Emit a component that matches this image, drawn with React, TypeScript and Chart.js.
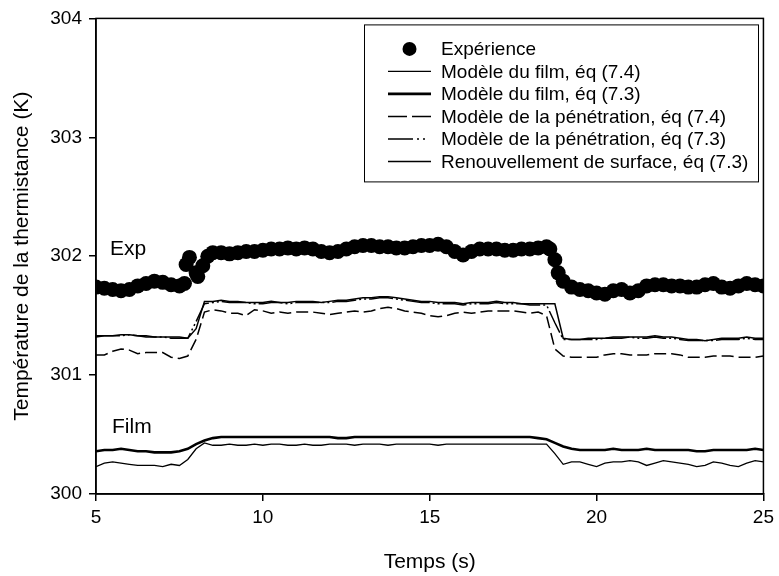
import React, { useEffect, useRef } from "react";
import { Chart, registerables } from "chart.js";

Chart.register(...registerables);

const FONT = "'Liberation Sans', Arial, Helvetica, sans-serif";

// Experimental points
const expTime = [
  5, 5.25, 5.5, 5.75, 6, 6.25, 6.5, 6.75, 7, 7.25, 7.5, 7.65, 7.7, 7.8, 8, 8.05, 8.2, 8.35, 8.5, 8.75,
  9, 9.25, 9.5, 9.75, 10, 10.25, 10.5, 10.75, 11, 11.25, 11.5, 11.75, 12, 12.25, 12.5, 12.75, 13, 13.25, 13.5, 13.75,
  14, 14.25, 14.5, 14.75, 15, 15.25, 15.5, 15.75, 16, 16.25, 16.5, 16.75, 17, 17.25, 17.5, 17.75, 18, 18.25, 18.5, 18.6,
  18.75, 18.85, 19, 19.25, 19.5, 19.75, 20, 20.25, 20.5, 20.75, 21, 21.25, 21.5, 21.75, 22, 22.25, 22.5, 22.75, 23, 23.25,
  23.5, 23.75, 24, 24.25, 24.5, 24.75, 25,
];
const expTemp = [
  301.74, 301.73, 301.72, 301.71, 301.72, 301.75, 301.77, 301.79, 301.78, 301.76, 301.75, 301.77, 301.93, 301.99, 301.86, 301.83, 301.92, 302.0, 302.03, 302.03,
  302.02, 302.03, 302.04, 302.04, 302.05, 302.06, 302.06, 302.07, 302.06, 302.07, 302.06, 302.04, 302.03, 302.04, 302.06, 302.08, 302.09, 302.09, 302.08, 302.08,
  302.07, 302.07, 302.08, 302.09, 302.09, 302.1, 302.08, 302.04, 302.01, 302.04, 302.06, 302.06, 302.06, 302.05, 302.05, 302.06, 302.06, 302.07, 302.08, 302.06,
  301.97, 301.86, 301.79, 301.74, 301.72, 301.71, 301.69, 301.68, 301.71, 301.72, 301.69, 301.71, 301.75, 301.76, 301.76, 301.75, 301.75, 301.74, 301.74, 301.76,
  301.77, 301.74, 301.73, 301.75, 301.77, 301.76, 301.75,
];

// Model time grid
const modelTime = [
  5, 5.25, 5.5, 5.75, 6, 6.25, 6.5, 6.75, 7, 7.25,
  7.5, 7.75, 8, 8.25, 8.5, 8.75, 9, 9.25, 9.5, 9.75,
  10, 10.25, 10.5, 10.75, 11, 11.25, 11.5, 11.75, 12, 12.25,
  12.5, 12.75, 13, 13.25, 13.5, 13.75, 14, 14.25, 14.5, 14.75,
  15, 15.25, 15.5, 15.75, 16, 16.25, 16.5, 16.75, 17, 17.25,
  17.5, 17.75, 18, 18.25, 18.5, 18.75, 19, 19.25, 19.5, 19.75,
  20, 20.25, 20.5, 20.75, 21, 21.25, 21.5, 21.75, 22, 22.25,
  22.5, 22.75, 23, 23.25, 23.5, 23.75, 24, 24.25, 24.5, 24.75,
  25,
];

const filmEq74 = [
  300.23, 300.26, 300.27, 300.26, 300.25, 300.24, 300.24, 300.24, 300.23, 300.25,
  300.24, 300.29, 300.38, 300.43, 300.41, 300.41, 300.42, 300.41, 300.41, 300.42,
  300.41, 300.42, 300.42, 300.41, 300.41, 300.42, 300.41, 300.41, 300.42, 300.42,
  300.42, 300.41, 300.42, 300.42, 300.42, 300.41, 300.42, 300.42, 300.42, 300.42,
  300.42, 300.41, 300.42, 300.42, 300.42, 300.42, 300.42, 300.42, 300.42, 300.42,
  300.42, 300.42, 300.42, 300.42, 300.42, 300.34, 300.25, 300.27, 300.27, 300.25,
  300.23, 300.26, 300.27, 300.27, 300.28, 300.27, 300.24, 300.26, 300.28, 300.27,
  300.26, 300.25, 300.23, 300.24, 300.27, 300.26, 300.24, 300.23, 300.26, 300.28,
  300.27,
];

const filmEq73 = [
  300.36, 300.37, 300.37, 300.38, 300.37, 300.36, 300.36, 300.35, 300.35, 300.35,
  300.36, 300.38, 300.42, 300.45, 300.47, 300.48, 300.48, 300.48, 300.48, 300.48,
  300.48, 300.48, 300.48, 300.48, 300.48, 300.48, 300.48, 300.48, 300.48, 300.47,
  300.47, 300.48, 300.48, 300.48, 300.48, 300.48, 300.48, 300.48, 300.48, 300.48,
  300.48, 300.48, 300.48, 300.48, 300.48, 300.48, 300.48, 300.48, 300.48, 300.48,
  300.48, 300.48, 300.48, 300.47, 300.46, 300.43, 300.4, 300.38, 300.37, 300.37,
  300.37, 300.37, 300.38, 300.37, 300.37, 300.37, 300.38, 300.37, 300.37, 300.37,
  300.37, 300.37, 300.36, 300.36, 300.37, 300.37, 300.37, 300.37, 300.37, 300.38,
  300.37,
];

const penetrationEq74 = [
  301.17, 301.17, 301.2, 301.22, 301.21, 301.18, 301.19, 301.19, 301.19, 301.15,
  301.14, 301.16, 301.3, 301.53, 301.55, 301.54, 301.52, 301.52, 301.5, 301.55,
  301.54, 301.52, 301.53, 301.52, 301.53, 301.53, 301.53, 301.52, 301.51, 301.52,
  301.53, 301.54, 301.53, 301.54, 301.56, 301.57, 301.56, 301.54, 301.53, 301.52,
  301.5, 301.49, 301.5, 301.52, 301.53, 301.52, 301.53, 301.54, 301.54, 301.54,
  301.54, 301.53, 301.52, 301.53, 301.5, 301.22, 301.16, 301.15, 301.15, 301.15,
  301.15, 301.17, 301.18, 301.18, 301.17, 301.17, 301.17, 301.18, 301.18, 301.18,
  301.17, 301.15, 301.15, 301.15, 301.16, 301.16, 301.16, 301.15, 301.15, 301.15,
  301.16,
];

const penetrationEq73 = [
  301.32, 301.33, 301.33, 301.33, 301.34, 301.33, 301.32, 301.32, 301.32, 301.31,
  301.31, 301.31, 301.45, 301.6, 301.61, 301.62, 301.61, 301.61, 301.61, 301.6,
  301.6, 301.61, 301.61, 301.6, 301.61, 301.61, 301.61, 301.61, 301.61, 301.62,
  301.62, 301.63, 301.64, 301.64, 301.65, 301.65, 301.64, 301.63, 301.62, 301.61,
  301.61, 301.6, 301.6, 301.6, 301.59, 301.6, 301.6, 301.6, 301.61, 301.6,
  301.6, 301.6, 301.59, 301.59, 301.59, 301.44, 301.3, 301.3, 301.3, 301.3,
  301.3, 301.31, 301.31, 301.31, 301.32, 301.31, 301.31, 301.32, 301.31, 301.31,
  301.3, 301.29, 301.29, 301.29, 301.29, 301.3, 301.3, 301.3, 301.31, 301.3,
  301.3,
];

const surfaceRenewalEq73 = [
  301.33, 301.33, 301.33, 301.34, 301.34, 301.33, 301.33, 301.32, 301.32, 301.32,
  301.32, 301.31, 301.39, 301.62, 301.62, 301.63, 301.62, 301.62, 301.61, 301.61,
  301.61, 301.62, 301.61, 301.61, 301.62, 301.62, 301.62, 301.61, 301.62, 301.63,
  301.63, 301.64, 301.65, 301.65, 301.66, 301.66, 301.65, 301.64, 301.63, 301.62,
  301.62, 301.61, 301.61, 301.61, 301.6, 301.61, 301.61, 301.61, 301.62, 301.61,
  301.61, 301.6, 301.6, 301.6, 301.6, 301.6, 301.31, 301.3, 301.3, 301.31,
  301.31, 301.31, 301.32, 301.32, 301.32, 301.32, 301.32, 301.33, 301.32, 301.32,
  301.31, 301.3, 301.3, 301.29, 301.3, 301.31, 301.31, 301.31, 301.32, 301.31,
  301.31,
];

const seriesLabels = [
  "Expérience",
  "Modèle du film, éq (7.4)",
  "Modèle du film, éq (7.3)",
  "Modèle de la pénétration, éq (7.4)",
  "Modèle de la pénétration, éq (7.3)",
  "Renouvellement de surface, éq (7.3)",
];

const xTicks = [5, 10, 15, 20, 25];
const yTicks = [300, 301, 302, 303, 304];
const groupLabels = [
  { text: "Exp", x: 5.42, y: 302.06 },
  { text: "Film", x: 5.48, y: 300.56 },
];

const toXY = (xs: number[], ys: number[]) => xs.map((x, i) => ({ x, y: ys[i] }));

const framePlugin = {
  id: "frameAndLegend",
  afterDatasetsDraw(chart: any) {
    const { ctx, chartArea, scales } = chart;
    ctx.save();
    // frame
    ctx.strokeStyle = "#000";
    ctx.lineWidth = 1.5;
    ctx.strokeRect(chartArea.left, chartArea.top, chartArea.right - chartArea.left, chartArea.bottom - chartArea.top);

    // group labels
    ctx.fillStyle = "#000";
    ctx.font = `21px ${FONT}`;
    ctx.textAlign = "left";
    ctx.textBaseline = "middle";
    groupLabels.forEach((g) => {
      ctx.fillText(g.text, scales.x.getPixelForValue(g.x), scales.y.getPixelForValue(g.y));
    });

    // legend box
    const bx = chartArea.left + 268;
    const by = chartArea.top + 6;
    const bw = 394;
    const bh = 157;
    ctx.fillStyle = "#fff";
    ctx.fillRect(bx, by, bw, bh);
    ctx.strokeStyle = "#000";
    ctx.lineWidth = 1;
    ctx.strokeRect(bx + 0.5, by + 0.5, bw, bh);

    const rowY0 = by + 24.5;
    const rowStep = 22.5;
    const sx0 = bx + 24;
    const sx1 = bx + 67;
    const tx = bx + 77;
    ctx.font = `19px ${FONT}`;
    chart.data.datasets.forEach((ds: any, i: number) => {
      const y = rowY0 + i * rowStep;
      if (i === 0) {
        ctx.beginPath();
        ctx.fillStyle = "#000";
        ctx.arc((sx0 + sx1) / 2, y, 7, 0, Math.PI * 2);
        ctx.fill();
      } else {
        ctx.beginPath();
        ctx.strokeStyle = "#000";
        ctx.lineWidth = ds.borderWidth;
        ctx.setLineDash(ds.legendDash || []);
        ctx.moveTo(sx0, y);
        ctx.lineTo(sx1, y);
        ctx.stroke();
        ctx.setLineDash([]);
      }
      ctx.fillStyle = "#000";
      ctx.textBaseline = "middle";
      ctx.fillText(ds.label, tx, y + 1);
    });
    ctx.restore();
  },
};

export default function App() {
  const canvasRef = useRef<HTMLCanvasElement | null>(null);

  useEffect(() => {
    if (!canvasRef.current) return;
    const lineBase = { pointRadius: 0, borderColor: "#000", tension: 0, fill: false };
    const chart = new Chart(canvasRef.current, {
      type: "line",
      data: {
        datasets: [
          {
            type: "scatter",
            label: seriesLabels[0],
            data: toXY(expTime, expTemp),
            pointRadius: 7.5,
            pointBackgroundColor: "#000",
            pointBorderWidth: 0,
            showLine: false,
          } as any,
          { ...lineBase, label: seriesLabels[1], data: toXY(modelTime, filmEq74), borderWidth: 1.3 },
          { ...lineBase, label: seriesLabels[2], data: toXY(modelTime, filmEq73), borderWidth: 2.6 },
          {
            ...lineBase,
            label: seriesLabels[3],
            data: toXY(modelTime, penetrationEq74),
            borderWidth: 1.5,
            borderDash: [12, 5],
            legendDash: [19, 5],
          },
          {
            ...lineBase,
            label: seriesLabels[4],
            data: toXY(modelTime, penetrationEq73),
            borderWidth: 1.5,
            borderDash: [24, 3, 2, 3, 2, 3],
            legendDash: [25, 4, 2, 4, 2, 40],
          },
          { ...lineBase, label: seriesLabels[5], data: toXY(modelTime, surfaceRenewalEq73), borderWidth: 1.5 },
        ] as any,
      },
      options: {
        animation: false,
        responsive: false,
        events: [],
        layout: { padding: { top: 15, right: 13, left: 0, bottom: 0 } },
        plugins: { legend: { display: false }, tooltip: { enabled: false } },
        scales: {
          x: {
            type: "linear",
            min: 5,
            max: 25,
            afterFit: (s: any) => {
              s.height = 82;
            },
            afterBuildTicks: (s: any) => {
              s.ticks = xTicks.map((v) => ({ value: v }));
            },
            ticks: { color: "#000", font: { family: FONT, size: 19 }, padding: 5, maxRotation: 0 },
            grid: { drawOnChartArea: false, drawTicks: true, tickLength: 7, color: "#000", lineWidth: 1.5 },
            border: { display: true, color: "#000", width: 1.5 },
            title: {
              display: true,
              text: "Temps (s)",
              color: "#000",
              font: { family: FONT, size: 21 },
              padding: { top: 0, bottom: 1 },
            },
          },
          y: {
            type: "linear",
            min: 300,
            max: 304,
            afterFit: (s: any) => {
              s.width = 96;
            },
            afterBuildTicks: (s: any) => {
              s.ticks = yTicks.map((v) => ({ value: v }));
            },
            ticks: { color: "#000", font: { family: FONT, size: 19 }, padding: 7 },
            grid: { drawOnChartArea: false, drawTicks: true, tickLength: 7, color: "#000", lineWidth: 1.5 },
            border: { display: true, color: "#000", width: 1.5 },
            title: {
              display: true,
              text: "Température de la thermistance (K)",
              color: "#000",
              font: { family: FONT, size: 21 },
              padding: { top: 10, bottom: 0 },
            },
          },
        },
      } as any,
      plugins: [framePlugin],
    });
    return () => chart.destroy();
  }, []);

  return (
    <div style={{ position: "absolute", left: 0, top: 0, width: 779, height: 576, background: "#fff" }}>
      <canvas ref={canvasRef} width={779} height={576} style={{ display: "block" }} />
    </div>
  );
}
